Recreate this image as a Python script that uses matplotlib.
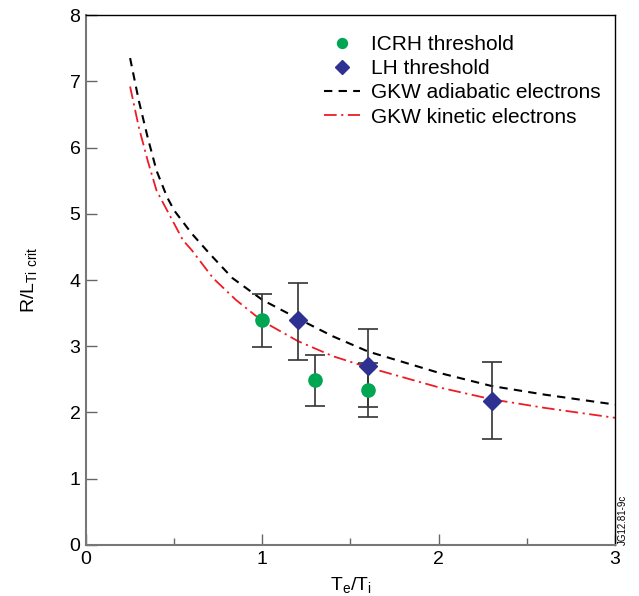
import matplotlib.pyplot as plt
import numpy as np

plt.rcParams['font.family'] = ['Liberation Sans', 'DejaVu Sans']
plt.rcParams['mathtext.fontset'] = 'custom'
plt.rcParams['mathtext.rm'] = 'Liberation Sans'

# GKW curves
x_adiab = [0.25, 0.3, 0.35, 0.4, 0.46, 0.5, 0.6, 0.7, 0.83, 1.0, 1.2, 1.4, 1.6, 2.0, 2.3, 2.6, 3.0]
y_adiab = [7.35, 6.7, 6.15, 5.65, 5.25, 5.05, 4.7, 4.4, 4.03, 3.7, 3.42, 3.15, 2.92, 2.6, 2.4, 2.27, 2.12]
x_kin = [0.25, 0.3, 0.35, 0.4, 0.48, 0.55, 0.6, 0.72, 0.85, 1.0, 1.2, 1.4, 1.6, 2.0, 2.3, 2.6, 3.0]
y_kin = [6.92, 6.3, 5.8, 5.35, 4.95, 4.6, 4.45, 4.03, 3.7, 3.38, 3.08, 2.85, 2.68, 2.38, 2.2, 2.07, 1.92]

# ICRH threshold points
icrh_x = [1.0, 1.3, 1.6]
icrh_y = [3.40, 2.49, 2.34]
icrh_lo = [2.99, 2.10, 1.93]
icrh_hi = [3.79, 2.87, 2.75]

# LH threshold points
lh_x = [1.2, 1.6, 2.3]
lh_y = [3.40, 2.70, 2.17]
lh_lo = [2.79, 2.08, 1.60]
lh_hi = [3.95, 3.26, 2.76]

fig = plt.figure(figsize=(6.39, 5.96), dpi=100)
ax = fig.add_axes([0.1346, 0.0856, 0.8278, 0.8892])

ax.plot(x_adiab, y_adiab, color='black', lw=1.5, dashes=(4, 3),
        label='GKW adiabatic electrons', zorder=2)
ax.plot(x_kin, y_kin, color='#ee1c24', lw=1.3, dashes=(7, 2.5, 1.2, 2.5),
        label='GKW kinetic electrons', zorder=2)

ierr = [np.array(icrh_y) - np.array(icrh_lo), np.array(icrh_hi) - np.array(icrh_y)]
lerr = [np.array(lh_y) - np.array(lh_lo), np.array(lh_hi) - np.array(lh_y)]
ax.errorbar(icrh_x, icrh_y, yerr=ierr, fmt='none', ecolor='#333333',
            elinewidth=1.2, capsize=7, capthick=1.2, zorder=3)
ax.errorbar(lh_x, lh_y, yerr=lerr, fmt='none', ecolor='#333333',
            elinewidth=1.2, capsize=7, capthick=1.2, zorder=3)
ax.plot(icrh_x, icrh_y, 'o', color='#00a651', ms=9.5, ls='none',
        label='ICRH threshold', zorder=4)
ax.plot(lh_x, lh_y, 'D', color='#2e3192', ms=9, ls='none',
        label='LH threshold', zorder=4)

ax.set_xlim(0, 3)
ax.set_ylim(0, 8)
ax.set_xticks([0, 1, 2, 3])
ax.set_xticks([0.5, 1.5, 2.5], minor=True)
ax.set_yticks(range(0, 9))
ax.tick_params(direction='in', length=8, width=1, color='#666666',
               labelsize=14, pad=4)
ax.tick_params(which='minor', direction='in', length=5, width=1, color='#666666')
for s in ['left', 'bottom']:
    ax.spines[s].set_color('#777777')
    ax.spines[s].set_linewidth(1.5)
for s in ['top', 'right']:
    ax.spines[s].set_color('black')
    ax.spines[s].set_linewidth(1.0)

ax.set_xlabel(r'T$_\mathregular{e}$/T$_\mathregular{i}$', fontsize=14, labelpad=6)
ax.set_ylabel(r'R/L$_\mathregular{Ti\ crit}$', fontsize=14, labelpad=21)

h, l = ax.get_legend_handles_labels()
order = [2, 3, 0, 1]
ax.legend([h[i] for i in order], [l[i] for i in order], loc='upper right',
          bbox_to_anchor=(1.0, 0.99), frameon=False, fontsize=15,
          handlelength=1.75, handletextpad=0.5, labelspacing=0.25,
          borderaxespad=0.3, markerscale=0.75)

fig.text(0.975, 0.0856, 'JG12.81-9c', rotation=90, fontsize=7,
         ha='center', va='bottom')

fig.savefig('out.png', dpi=100)
